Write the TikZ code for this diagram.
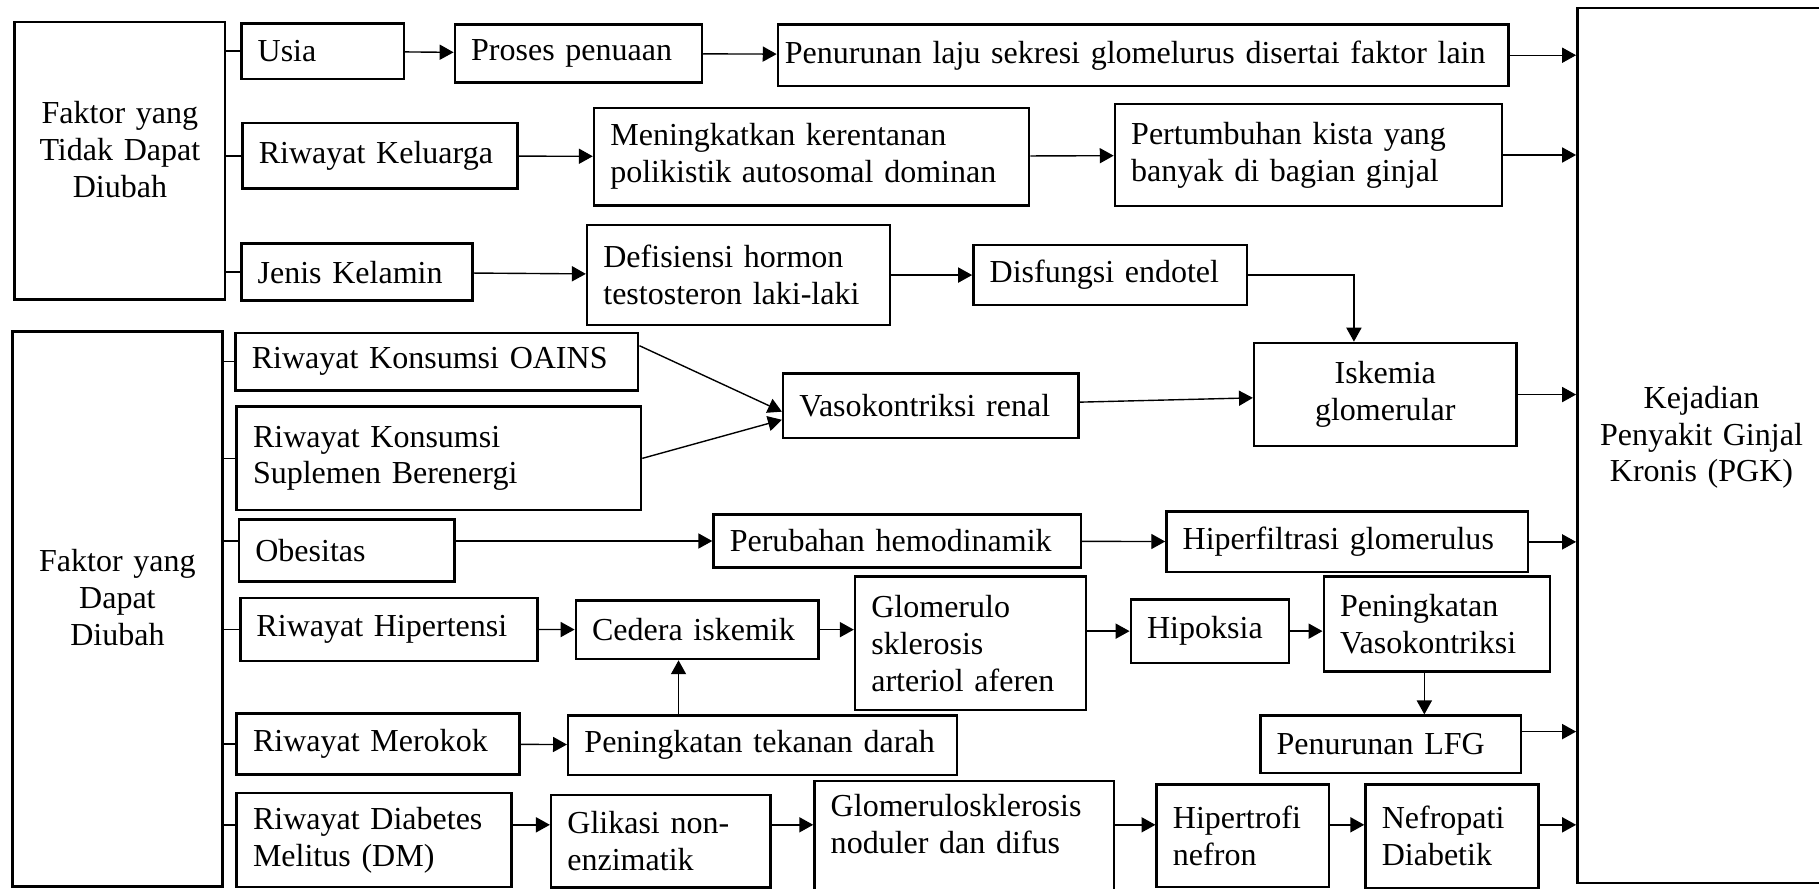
\documentclass[tikz,border=0pt]{standalone}
\usepackage{fontspec}
\setmainfont{Liberation Serif}
\usetikzlibrary{arrows.meta}
\tikzset{
  bx/.style 2 args={text width=#1*0.5pt-14pt, minimum height=#2*0.5pt}
}
\begin{document}
\begin{tikzpicture}[x=0.5pt, y=-0.5pt]
  \useasboundingbox (0,0) rectangle (1568,766);
  \begin{scope}[every node/.style={rectangle, draw, line width=1.1pt, anchor=north west, align=left, inner xsep=7pt, inner ysep=2pt, font=\fontsize{13.8}{15.9}\selectfont}]
    % faktor yang tidak dapat diubah
    \node (tdk) [bx={181.5}{239}, align=center] at (11.5,18) {Faktor yang\\Tidak Dapat\\Diubah\\[-6pt]\mbox{}};
    \node (usia) [bx={140}{48}] at (207,19) {Usia};
    \node (penuaan) [bx={213}{50}] at (391,20) {Proses penuaan};
    \node (laju) [bx={629.5}{53}, inner xsep=3pt, text width=308.75pt] at (669.5,20) {Penurunan laju sekresi glomelurus disertai faktor lain};
    \node (keluarga) [bx={237}{56.5}] at (208,105) {Riwayat Keluarga};
    \node (rentan) [bx={375}{84}] at (511,92) {Meningkatkan kerentanan\\polikistik autosomal dominan};
    \node (kista) [bx={333.5}{88}] at (960,88.5) {Pertumbuhan kista yang\\banyak di bagian ginjal};
    \node (kelamin) [bx={199}{49}] at (207,209) {Jenis Kelamin};
    \node (hormon) [bx={261}{86}] at (505,193) {Defisiensi hormon\\testosteron laki-laki};
    \node (endotel) [bx={236}{52}] at (838,210) {Disfungsi endotel};
    % faktor yang dapat diubah
    \node (dpt) [bx={181}{478.5}, align=center] at (9.6,284.5) {Faktor yang\\Dapat\\Diubah\\[-6pt]\mbox{}};
    \node (oains) [bx={347}{49.5}] at (202,286) {Riwayat Konsumsi OAINS};
    \node (suplemen) [bx={348.5}{89}] at (203,349.5) {Riwayat Konsumsi\\Suplemen Berenergi};
    \node (vaso) [bx={254.5}{55.5}] at (674,321) {Vasokontriksi renal};
    \node (iskemia) [bx={226}{89}, align=center] at (1080,294.5) {Iskemia\\glomerular};
    \node (pgk) [bx={214}{754.3}, align=center] at (1358.6,5.7) {Kejadian\\Penyakit Ginjal\\Kronis (PGK)\\[-6pt]\mbox{}};
    \node (obesitas) [bx={185.7}{53.5}] at (205,446.5) {Obesitas};
    \node (hemodinamik) [bx={316.6}{45.5}] at (614,442.5) {Perubahan hemodinamik};
    \node (hiperfil) [bx={311.6}{52}] at (1004.4,440) {Hiperfiltrasi glomerulus};
    \node (hipertensi) [bx={256}{54.3}] at (206,514.3) {Riwayat Hipertensi};
    \node (cedera) [bx={209}{50.7}] at (495.3,516.3) {Cedera iskemik};
    \node (glomscl) [bx={199}{115}] at (736,496) {Glomerulo\\sklerosis\\arteriol aferen};
    \node (hipoksia) [bx={136.3}{54.9}] at (973.7,515.5) {Hipoksia};
    \node (vasokon) [bx={195}{81.6}] at (1140,496) {Peningkatan\\Vasokontriksi};
    \node (lfg) [bx={224.6}{49.5}] at (1085.4,615.8) {Penurunan LFG};
    \node (merokok) [bx={243.5}{52.3}] at (203,614) {Riwayat Merokok};
    \node (tekanan) [bx={335}{51.5}] at (488.7,615.5) {Peningkatan tekanan darah};
    \node (diabetes) [bx={237}{81}] at (203,682.5) {Riwayat Diabetes\\Melitus (DM)};
    \node (glikasi) [bx={189}{80}] at (474,684) {Glikasi non-\\enzimatik};
    \node (nodular) [bx={258}{106}] at (701,672) {Glomerulosklerosis\\noduler dan difus\\\mbox{}};
    \node (hipertrofi) [bx={148.5}{88.5}] at (996,675) {Hipertrofi\\nefron};
    \node (nefropati) [bx={149}{89.4}] at (1176,675) {Nefropati\\Diabetik};
  \end{scope}
  \coordinate (iskin) at ([xshift=-13.5pt]iskemia.north);
  \coordinate (vkdown) at ([xshift=-5.4pt]vasokon.south);
  \coordinate (lfgout) at ([yshift=5.5pt]lfg.east);
  \coordinate (tekup) at ([xshift=-8pt]cedera.south);
  \coordinate (dmrow) at (0,711);
  \begin{scope}[every edge/.style={draw=black, line width=0.6pt, -{Triangle[length=6pt,width=6.5pt]}}]
    % garis cabang
    \path (tdk.east |- usia.west) edge[-] (usia.west);
    \path (tdk.east |- keluarga.west) edge[-] (keluarga.west);
    \path (tdk.east |- kelamin.west) edge[-] (kelamin.west);
    \path (dpt.east |- oains.west) edge[-] (oains.west);
    \path (dpt.east |- suplemen.west) edge[-] (suplemen.west);
    \path (dpt.east |- hemodinamik.west) edge[-] (obesitas.west |- hemodinamik.west);
    \path (dpt.east |- hipertensi.west) edge[-] (hipertensi.west);
    \path (dpt.east |- merokok.west) edge[-] (merokok.west);
    \path (dpt.east |- dmrow) edge[-] (diabetes.west |- dmrow);
    % panah
    \path (usia) edge (penuaan);
    \path (penuaan) edge (laju);
    \path (laju.east) edge (laju.east -| pgk.west);
    \path (keluarga) edge (rentan);
    \path (rentan) edge (kista);
    \path (kista.east) edge (kista.east -| pgk.west);
    \path (kelamin) edge (hormon);
    \path (hormon) edge (endotel);
    \path (endotel.east) edge[to path={-| (\tikztotarget)}] (iskin);
    \path ([yshift=-6pt]oains.north east) edge ([yshift=-2.5pt]vaso.west);
    \path (suplemen.east) edge ([yshift=-6pt]vaso.west);
    \path (vaso) edge (iskemia);
    \path (iskemia.east) edge (iskemia.east -| pgk.west);
    \path (obesitas.east |- hemodinamik.west) edge (hemodinamik.west);
    \path (hemodinamik) edge (hiperfil);
    \path (hiperfil.east) edge (hiperfil.east -| pgk.west);
    \path (hipertensi) edge (cedera);
    \path (cedera.east) edge (cedera.east -| glomscl.west);
    \path (glomscl.east |- hipoksia.west) edge (hipoksia.west);
    \path (hipoksia.east) edge (hipoksia.east -| vasokon.west);
    \path (vkdown) edge (vkdown |- lfg.north);
    \path (lfgout) edge (lfgout -| pgk.west);
    \path (merokok) edge (tekanan);
    \path (tekup |- tekanan.north) edge (tekup);
    \path (diabetes.east |- dmrow) edge (glikasi.west |- dmrow);
    \path (glikasi.east |- dmrow) edge (nodular.west |- dmrow);
    \path (nodular.east |- dmrow) edge (hipertrofi.west |- dmrow);
    \path (hipertrofi.east |- dmrow) edge (nefropati.west |- dmrow);
    \path (nefropati.east |- dmrow) edge (pgk.west |- dmrow);
  \end{scope}
\end{tikzpicture}
\end{document}
